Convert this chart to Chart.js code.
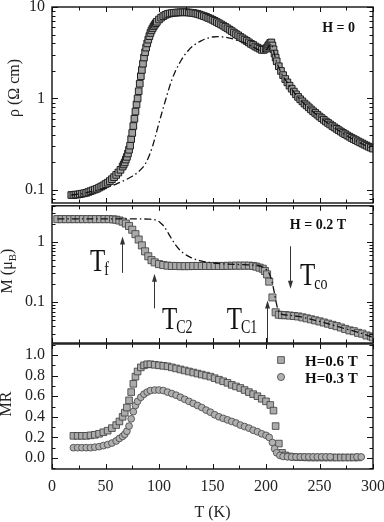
<!DOCTYPE html>
<html><head><meta charset="utf-8">
<script src="https://cdn.jsdelivr.net/npm/chart.js@4.4.1/dist/chart.umd.min.js"></script>
<style>
html,body{margin:0;padding:0;background:#fff;width:384px;height:522px;overflow:hidden}
.p{position:absolute;left:0}
canvas{display:block}
</style></head><body>
<div class="p" style="top:0px"><canvas id="c1" width="384" height="215"></canvas></div>
<div class="p" style="top:200px"><canvas id="c2" width="384" height="150"></canvas></div>
<div class="p" style="top:330px"><canvas id="c3" width="384" height="192"></canvas></div>
<script>
// ---------- axis ticks ----------
const xMajorTicks = [0,50,100,150,200,250,300];
const xMinorTicks = [25,75,125,175,225,275];
const rhoTicks = [0.1,1,10];
const rhoTickLabels = ['0.1','1','10'];
const rhoMinorTicks = [0.08,0.09,0.2,0.3,0.4,0.5,0.6,0.7,0.8,0.9,2,3,4,5,6,7,8,9];
const mTicks = [0.1,1];
const mTickLabels = ['0.1','1'];
const mMinorTicks = [0.03,0.04,0.05,0.06,0.07,0.08,0.09,0.2,0.3,0.4,0.5,0.6,0.7,0.8,0.9,2,3,4];
const mrTicks = [0,0.2,0.4,0.6,0.8,1.0];
const mrTickLabels = ['0.0','0.2','0.4','0.6','0.8','1.0'];
const mrMinorTicks = [-0.1,0.1,0.3,0.5,0.7,0.9,1.1];

// ---------- panel 1: resistivity, H = 0 ----------
const rhoT = [18,20,22,24,26,28,30,32,34,36,38,40,42,44,46,48,50,52,54,56,58,60,62,64,66,67,68,69,70,71,72,73,74,75,76,77,78,79,80,81,82,83,84,85,86,87,88,89,90,91,92,93,94,95,96,97,98,100,102,104,106,108,110,112,114,116,118,120,122,124,126,128,130,132,134,136,138,140,142,144,146,148,150,152,154,156,158,160,162,164,166,168,170,172,174,176,178,180,182,184,186,188,190,192,194,196,198,200,201,202,203,204,205,206,207,208,209,210,212,214,216,218,220,222,224,226,228,230,232,234,236,238,240,242,244,246,248,250,252,254,256,258,260,262,264,266,268,270,272,274,276,278,280,282,284,286,288,290,292,294,296,298,300];
const rhoSquares = [0.088,0.088,0.089,0.089,0.090,0.091,0.092,0.093,0.095,0.097,0.099,0.101,0.103,0.106,0.109,0.112,0.116,0.120,0.125,0.131,0.138,0.146,0.155,0.166,0.180,0.19,0.20,0.215,0.23,0.25,0.275,0.305,0.36,0.42,0.5,0.6,0.72,0.86,1.0,1.2,1.45,1.75,2.05,2.4,2.8,3.2,3.6,4.0,4.4,4.8,5.2,5.55,5.85,6.15,6.4,6.65,6.9,7.3,7.65,7.95,8.2,8.4,8.5,8.58,8.64,8.68,8.72,8.75,8.75,8.75,8.75,8.7,8.65,8.6,8.5,8.4,8.25,8.1,7.95,7.8,7.6,7.45,7.25,7.05,6.85,6.65,6.45,6.25,6.05,5.85,5.65,5.45,5.25,5.05,4.9,4.7,4.55,4.4,4.25,4.1,3.95,3.85,3.7,3.6,3.5,3.4,3.4,3.5,3.6,3.75,3.9,4.05,4.1,3.8,3.45,3.1,2.8,2.55,2.25,2.0,1.8,1.63,1.5,1.38,1.28,1.19,1.11,1.04,0.98,0.93,0.88,0.84,0.8,0.76,0.725,0.695,0.665,0.635,0.61,0.585,0.56,0.54,0.52,0.5,0.483,0.466,0.45,0.435,0.42,0.407,0.394,0.382,0.37,0.36,0.35,0.34,0.331,0.322,0.313,0.305,0.297,0.29,0.283];
const rhoLineT = [18,25,30,35,40,45,50,55,60,65,70,75,80,84,88,91,94,97,100,103,106,109,112,115,118,121,124,127,130,135,140,145,150,155,160,165,170,175,180,185,190,194,197,200,202,204,205,206,208,210,213,216,220,225,230,240,250,260,270,280,290,300];
const rhoLine = [0.088,0.09,0.092,0.095,0.098,0.101,0.105,0.11,0.116,0.123,0.131,0.141,0.155,0.172,0.2,0.24,0.3,0.4,0.54,0.72,0.95,1.25,1.6,1.95,2.3,2.65,3.0,3.3,3.6,4.0,4.3,4.55,4.7,4.75,4.7,4.6,4.45,4.25,4.05,3.8,3.55,3.35,3.25,3.4,3.6,3.9,3.95,3.7,3.0,2.5,2.05,1.75,1.48,1.22,1.03,0.79,0.63,0.515,0.43,0.365,0.318,0.28];

// ---------- panel 2: magnetisation, H = 0.2 T ----------
const mT = [5,9,13,17,21,25,29,33,37,41,45,49,53,57,60,63,66,69,72,75,78,81,84,87,90,93,96,100,104,108,112,116,120,124,128,132,136,140,144,148,152,156,160,164,168,172,176,180,184,188,191,194,197,199,201,203,206,209,212,215,218,222,226,230,234,238,242,246,250,254,258,262,266,270,274,278,282,286,290,294,298,300];
const mSquares = [2.4,2.4,2.4,2.4,2.4,2.4,2.4,2.4,2.4,2.4,2.4,2.4,2.4,2.38,2.35,2.28,2.18,2.03,1.85,1.6,1.35,1.1,0.88,0.7,0.58,0.5,0.46,0.43,0.415,0.405,0.4,0.4,0.398,0.398,0.398,0.4,0.4,0.4,0.4,0.4,0.4,0.4,0.4,0.402,0.403,0.405,0.405,0.405,0.405,0.4,0.39,0.375,0.36,0.33,0.29,0.22,0.12,0.068,0.062,0.061,0.061,0.06,0.059,0.058,0.056,0.054,0.052,0.05,0.048,0.046,0.044,0.042,0.04,0.038,0.036,0.034,0.033,0.031,0.03,0.028,0.027,0.026];
const mLineT = [5,20,40,60,80,90,95,98,101,104,107,110,113,116,119,122,126,130,135,140,150,160,170,180,190,195,198,201,203,205,207,209,211,214,220,230,240,250,260,270,280,290,300];
const mLine = [2.42,2.42,2.42,2.42,2.42,2.4,2.36,2.28,2.12,1.88,1.58,1.28,1.04,0.87,0.75,0.67,0.6,0.55,0.51,0.48,0.45,0.435,0.425,0.42,0.41,0.395,0.375,0.34,0.3,0.24,0.17,0.11,0.077,0.064,0.061,0.058,0.053,0.048,0.043,0.038,0.034,0.03,0.026];

// ---------- panel 3: magnetoresistance ----------
const mr06T = [20,24,28,32,36,40,44,48,52,56,60,63,66,68,70,72,74,76,78,80,83,86,89,92,96,100,104,108,112,116,120,124,128,132,136,140,144,148,152,156,160,164,168,172,176,180,184,188,192,196,200,204,207,209,212,215,218,222,226,230,234,238,242,246,250,254,258,262,266,270,274,278,282,286];
const mr06 = [0.215,0.215,0.215,0.215,0.22,0.225,0.235,0.25,0.265,0.29,0.32,0.355,0.4,0.44,0.49,0.56,0.64,0.72,0.79,0.84,0.88,0.9,0.91,0.91,0.905,0.9,0.895,0.89,0.88,0.87,0.86,0.85,0.84,0.83,0.82,0.81,0.8,0.79,0.775,0.76,0.745,0.73,0.71,0.695,0.68,0.66,0.64,0.62,0.6,0.575,0.55,0.515,0.46,0.31,0.14,0.05,0.025,0.015,0.01,0.008,0.007,0.006,0.005,0.005,0.005,0.005,0.005,0.005,0.005,0.005,0.005,0.005,0.005,0.005];
const mr03T = [20,24,28,32,36,40,44,48,52,56,60,63,66,68,70,72,74,76,78,80,83,86,89,92,96,100,104,108,112,116,120,124,128,132,136,140,144,148,152,156,160,164,168,172,176,180,184,188,192,196,200,203,206,208,210,213,216,220,224,228,232,236,240,244,248,252,256,260,285,289];
const mr03 = [0.1,0.1,0.1,0.1,0.1,0.105,0.11,0.12,0.13,0.145,0.165,0.19,0.21,0.23,0.26,0.31,0.38,0.45,0.51,0.55,0.59,0.62,0.64,0.655,0.66,0.66,0.655,0.64,0.625,0.61,0.59,0.57,0.55,0.53,0.51,0.49,0.465,0.445,0.42,0.4,0.385,0.37,0.355,0.34,0.32,0.305,0.29,0.27,0.255,0.235,0.22,0.2,0.15,0.09,0.05,0.025,0.015,0.012,0.01,0.01,0.01,0.01,0.01,0.01,0.01,0.01,0.01,0.01,0.01,0.01];

// ---------- annotations (data units) ----------
const arrowMarks = [
  {T:65,    from:0.307, to:1.24},
  {T:95.6,  from:0.079, to:0.296},
  {T:200.6, from:0.021, to:0.107},
  {T:222,   from:0.85,  to:0.168}
];
const transitionLabels = [
  {main:'T', sub:'f',  T:35.5,  M:0.331},
  {main:'T', sub:'C2', T:102.8, M:0.0357},
  {main:'T', sub:'C1', T:163.3, M:0.0357},
  {main:'T', sub:'co', T:231.8, M:0.195}
];

const FONT = "'Liberation Serif','Times New Roman',serif";
Chart.defaults.font.family = FONT;
Chart.defaults.color = '#222';

const pts = (xs, ys) => xs.map((x, i) => ({x, y: ys[i]}));

function framePlugin(major, minor) {
  return {
    id: 'frame',
    afterDraw(chart) {
      const {ctx, chartArea: a, scales: {x, y}} = chart;
      ctx.save();
      ctx.strokeStyle = '#111';
      ctx.lineWidth = 1;
      ctx.beginPath();
      const xt = (arr, len) => arr.forEach(v => {
        const px = Math.round(x.getPixelForValue(v)) + 0.5;
        ctx.moveTo(px, a.bottom); ctx.lineTo(px, a.bottom - len);
        ctx.moveTo(px, a.top); ctx.lineTo(px, a.top + len);
      });
      const yt = (arr, len) => arr.forEach(v => {
        const py = Math.round(y.getPixelForValue(v)) + 0.5;
        if (py < a.top || py > a.bottom) return;
        ctx.moveTo(a.left, py); ctx.lineTo(a.left + len, py);
        ctx.moveTo(a.right, py); ctx.lineTo(a.right - len, py);
      });
      xt(xMajorTicks, 5); xt(xMinorTicks, 3.5);
      yt(major, 6); yt(minor, 3.5);
      ctx.stroke();
      ctx.lineWidth = 1.4;
      ctx.strokeRect(a.left, a.top, a.right - a.left, a.bottom - a.top);
      ctx.restore();
    }
  };
}

function textPlugin(drawFn) {
  return { id: 'txt', afterDraw(chart) { const ctx = chart.ctx; ctx.save(); drawFn(chart, ctx); ctx.restore(); } };
}

function rotatedTitle(ctx, parts, cx, cy) {
  ctx.translate(cx, cy);
  ctx.rotate(-Math.PI / 2);
  ctx.fillStyle = '#222';
  ctx.textBaseline = 'middle';
  let total = 0;
  parts.forEach(p => { ctx.font = p.font; total += ctx.measureText(p.t).width; });
  let xx = -total / 2;
  parts.forEach(p => { ctx.font = p.font; ctx.fillText(p.t, xx, p.dy || 0); xx += ctx.measureText(p.t).width; });
}

function yScale(type, min, max, ticks, labels) {
  return {
    type, min, max, position: 'left',
    grid: {display: false, drawTicks: false}, border: {display: false},
    ticks: {font: {size: 16}, color: '#222', padding: 7, autoSkip: false, callback: (v, i) => labels[i]},
    afterBuildTicks: s => { s.ticks = ticks.map(v => ({value: v})); },
    afterFit: s => { s.width = 52; s.paddingTop = 0; s.paddingBottom = 0; }
  };
}
function xScale(show) {
  const base = {type: 'linear', min: 0, max: 300, position: 'bottom'};
  if (!show) return Object.assign(base, {display: false});
  return Object.assign(base, {
    grid: {display: false, drawTicks: false}, border: {display: false},
    ticks: {font: {size: 16}, color: '#222', padding: 8, maxRotation: 0, autoSkip: false, callback: v => String(v)},
    afterBuildTicks: s => { s.ticks = xMajorTicks.map(v => ({value: v})); },
    afterFit: s => { s.height = 53; s.paddingLeft = 0; s.paddingRight = 0; },
    title: {display: true, text: 'T (K)', font: {size: 16}, color: '#222', padding: {top: 0, bottom: 0}}
  });
}
function baseOptions(padTop, padBottom, y, showX) {
  return {
    responsive: false, animation: false, devicePixelRatio: 1, events: [],
    layout: {padding: {top: padTop, bottom: padBottom, left: 0, right: 11}},
    plugins: {legend: {display: false}, tooltip: {enabled: false}},
    scales: {x: xScale(showX), y}
  };
}
const lineStyle = {showLine: true, borderColor: '#111', borderWidth: 1.3, borderDash: [7, 3, 1.5, 3], pointRadius: 0, cubicInterpolationMode: 'monotone', fill: false};
const squareStyle = {showLine: false, pointStyle: 'rect', backgroundColor: '#ababab', borderColor: '#3a3a3a', borderWidth: 0.8};

// Chart 1
new Chart(document.getElementById('c1'), {
  type: 'scatter',
  data: {datasets: [
    Object.assign({data: pts(rhoLineT, rhoLine)}, lineStyle),
    Object.assign({}, squareStyle, {data: pts(rhoT, rhoSquares), pointRadius: 4.7, backgroundColor: '#a0a0a0', borderColor: '#1e1e1e', borderWidth: 1})
  ]},
  options: baseOptions(7, 12, yScale('logarithmic', 0.072, 10, rhoTicks, rhoTickLabels), false),
  plugins: [framePlugin(rhoTicks, rhoMinorTicks), textPlugin((chart, ctx) => {
    const a = chart.chartArea;
    ctx.fillStyle = '#111';
    ctx.font = 'bold 14px ' + FONT;
    ctx.textAlign = 'right'; ctx.textBaseline = 'alphabetic';
    ctx.fillText('H = 0', a.right - 18, a.top + 25);
    ctx.textAlign = 'left';
    rotatedTitle(ctx, [{t: 'ρ (Ω cm)', font: '16px ' + FONT}], 15, 88);
  })]
});

// Chart 2
new Chart(document.getElementById('c2'), {
  type: 'scatter',
  data: {datasets: [
    Object.assign({data: pts(mLineT, mLine)}, lineStyle),
    Object.assign({data: pts(mT, mSquares), pointRadius: 5}, squareStyle)
  ]},
  options: baseOptions(4, 7, yScale('logarithmic', 0.021, 4.0, mTicks, mTickLabels), false),
  plugins: [framePlugin(mTicks, mMinorTicks), textPlugin((chart, ctx) => {
    const a = chart.chartArea, x = chart.scales.x, y = chart.scales.y;
    ctx.fillStyle = '#111';
    ctx.font = 'bold 14px ' + FONT;
    ctx.textAlign = 'right'; ctx.textBaseline = 'alphabetic';
    ctx.fillText('H = 0.2 T', a.right - 27, a.top + 23);
    // arrows
    ctx.strokeStyle = '#333'; ctx.fillStyle = '#333'; ctx.lineWidth = 1;
    arrowMarks.forEach(m => {
      const px = Math.round(x.getPixelForValue(m.T)) + 0.5;
      const y0 = y.getPixelForValue(m.from), y1 = y.getPixelForValue(m.to);
      const dir = y1 < y0 ? -1 : 1;
      ctx.beginPath(); ctx.moveTo(px, y0); ctx.lineTo(px, y1 - dir * 6); ctx.stroke();
      ctx.beginPath(); ctx.moveTo(px, y1); ctx.lineTo(px - 2.5, y1 - dir * 8); ctx.lineTo(px + 2.5, y1 - dir * 8); ctx.closePath(); ctx.fill();
    });
    // labels
    ctx.fillStyle = '#111'; ctx.textAlign = 'left';
    transitionLabels.forEach(l => {
      const px = x.getPixelForValue(l.T), py = y.getPixelForValue(l.M);
      ctx.save(); ctx.translate(px, py); ctx.scale(1, 1.27);
      ctx.font = '25px ' + FONT; ctx.fillText(l.main, 0, 0);
      const w = ctx.measureText(l.main).width;
      ctx.restore();
      ctx.save(); ctx.translate(px + w - 1, py + 4); ctx.scale(1, 1.3);
      ctx.font = '14px ' + FONT; ctx.fillText(l.sub, 0, 0);
      ctx.restore();
    });
    rotatedTitle(ctx, [{t: 'M (μ', font: '16px ' + FONT}, {t: 'B', font: '11px ' + FONT, dy: 5}, {t: ')', font: '16px ' + FONT}], 8, 71);
  })]
});

// Chart 3
new Chart(document.getElementById('c3'), {
  type: 'scatter',
  data: {datasets: [
    Object.assign({data: pts(mr03T, mr03), pointRadius: 3.4, pointStyle: 'circle', backgroundColor: '#b0b0b0', borderColor: '#444', borderWidth: 0.8, showLine: false}),
    Object.assign({data: pts(mr06T, mr06), pointRadius: 4.7}, squareStyle)
  ]},
  options: baseOptions(14, 0, yScale('linear', -0.107, 1.107, mrTicks, mrTickLabels), true),
  plugins: [framePlugin(mrTicks, mrMinorTicks), textPlugin((chart, ctx) => {
    const a = chart.chartArea;
    // legend
    const lx = a.right - 92;
    ctx.fillStyle = '#ababab'; ctx.strokeStyle = '#3a3a3a'; ctx.lineWidth = 0.8;
    ctx.fillRect(lx - 3.3, a.top + 16 - 3.3, 6.6, 6.6); ctx.strokeRect(lx - 3.3, a.top + 16 - 3.3, 6.6, 6.6);
    ctx.fillStyle = '#b0b0b0'; ctx.strokeStyle = '#444';
    ctx.beginPath(); ctx.arc(lx, a.top + 33, 3.6, 0, Math.PI * 2); ctx.fill(); ctx.stroke();
    ctx.fillStyle = '#111'; ctx.font = 'bold 15px ' + FONT; ctx.textAlign = 'left'; ctx.textBaseline = 'alphabetic';
    ctx.fillText('H=0.6 T', a.right - 68, a.top + 22);
    ctx.fillText('H=0.3 T', a.right - 68, a.top + 39);
    rotatedTitle(ctx, [{t: 'MR', font: '16px ' + FONT}], 7, 74);
  })]
});
</script>
</body></html>
